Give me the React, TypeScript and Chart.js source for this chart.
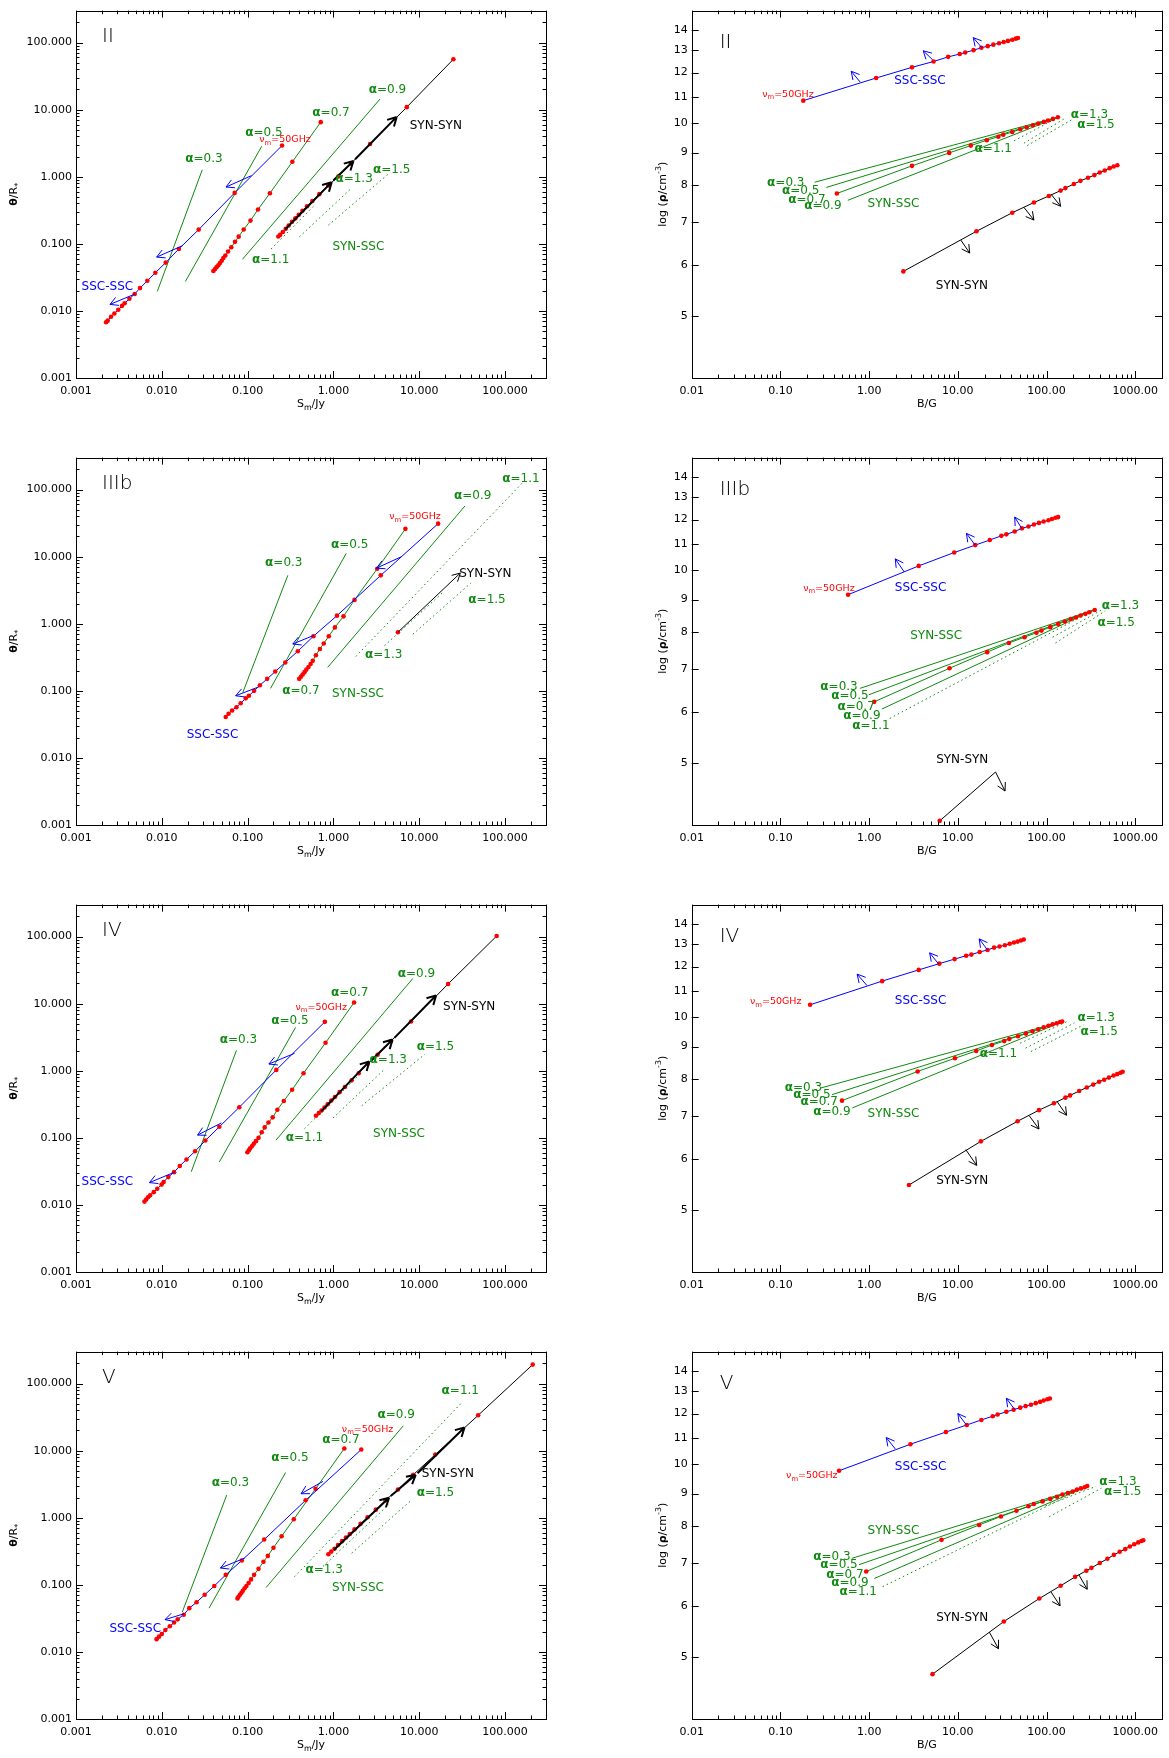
import { useEffect, useRef } from "react";
import { Chart, registerables } from "chart.js";

Chart.register(...registerables);

type Pt = [number, number];
type Arrow = [number, number, number, number];
type Label = [string, number, number];

const leftTicks = [0.001, 0.01, 0.1, 1, 10, 100];
const rightXTicks = [0.01, 0.1, 1, 10, 100, 1000];
const rightYTicks = [5, 6, 7, 8, 9, 10, 11, 12, 13, 14];

// ---------- II ----------
const iiSscL: Pt[] = [[0.00224, 0.00678], [0.00234, 0.00716], [0.00256, 0.00819], [0.0028, 0.00916], [0.00311, 0.0104], [0.00344, 0.0119], [0.00369, 0.013], [0.00419, 0.0152], [0.00483, 0.0179], [0.00557, 0.0219], [0.00678, 0.0281], [0.00841, 0.0371], [0.0111, 0.0525], [0.0158, 0.0839], [0.0269, 0.163], [0.0706, 0.575], [0.252, 2.92]];
const iiA07L: Pt[] = [[0.0399, 0.0393], [0.0417, 0.042], [0.0435, 0.0449], [0.0456, 0.048], [0.0476, 0.0519], [0.0499, 0.0561], [0.0521, 0.0614], [0.055, 0.0671], [0.0592, 0.0767], [0.0645, 0.0888], [0.0713, 0.107], [0.0787, 0.128], [0.09, 0.164], [0.108, 0.222], [0.132, 0.325], [0.182, 0.569], [0.332, 1.67], [0.711, 6.52]];
const iiSynL: Pt[] = [[0.228, 0.1285], [0.239, 0.136], [0.257, 0.15], [0.278, 0.168], [0.301, 0.188], [0.329, 0.213], [0.36, 0.24], [0.394, 0.272], [0.435, 0.311], [0.492, 0.364], [0.568, 0.435], [0.685, 0.551], [0.873, 0.745], [1.14, 1.01], [1.6, 1.57], [2.67, 3.08], [7.15, 10.9], [25.0, 56.5]];
const iiA03L: Pt[] = [[0.00887, 0.0196], [0.0296, 1.27]];
const iiA05L: Pt[] = [[0.0188, 0.0274], [0.146, 2.85]];
const iiA09L: Pt[] = [[0.0869, 0.0587], [3.49, 14.4]];
const iiA11L: Pt[] = [[0.1875, 0.0839], [0.583, 0.36]];
const iiA13L: Pt[] = [[0.401, 0.127], [1.6, 0.665]];
const iiA15L: Pt[] = [[0.873, 0.19], [4.37, 1.1]];
const iiBlueL: Arrow[] = [[0.00488, 0.0179, 0.00249, 0.0125], [0.0175, 0.094, 0.00871, 0.0635], [0.111, 1.04, 0.056, 0.703]];
const iiBlackL: Arrow[] = [[0.273, 0.164, 0.955, 0.832], [0.997, 0.881, 1.71, 1.72], [1.79, 1.82, 5.46, 7.8]];
const iiLabelsL: Label[] = [["α=0.3", 0.031, 1.82], ["α=0.5", 0.155, 4.56], ["α=0.7", 0.938, 9.02], ["α=0.9", 4.26, 19.5], ["α=1.1", 0.186, 0.058], ["α=1.3", 1.74, 0.931], ["α=1.5", 4.78, 1.27], ["SYN-SSC", 1.95, 0.0908], ["SSC-SSC", 0.00232, 0.0232], ["SYN-SYN", 15.6, 5.7], ["ν_{m}=50GHz", 0.273, 3.56]];

const iiSscR: Pt[] = [[0.181, 10.85], [1.2, 11.77], [3.04, 12.23], [5.32, 12.49], [7.78, 12.7], [10.5, 12.83], [12.1, 12.9], [15.0, 13.01], [18.4, 13.12], [21.7, 13.2], [25.1, 13.27], [29.1, 13.34], [32.9, 13.4], [36.7, 13.45], [41.1, 13.51], [44.9, 13.56], [47.6, 13.59]];
const iiA07R: Pt[] = [[0.433, 7.77], [3.04, 8.58], [7.98, 8.99], [14.0, 9.23], [21.2, 9.41], [28.6, 9.53], [32.5, 9.6], [41.1, 9.69], [50.5, 9.79], [59.6, 9.86], [70.2, 9.93], [80.5, 9.99], [93.3, 10.05], [104, 10.1], [118, 10.16], [134, 10.22]];
const iiSynR: Pt[] = [[2.43, 5.87], [16.2, 6.78], [41.1, 7.25], [72, 7.52], [106, 7.7], [144, 7.85], [163, 7.92], [203, 8.04], [241, 8.13], [293, 8.22], [346, 8.3], [397, 8.38], [452, 8.44], [514, 8.51], [570, 8.56], [628, 8.6]];
const iiA03R: Pt[] = [[0.243, 8.09], [140, 10.24]];
const iiA05R: Pt[] = [[0.329, 7.94], [140, 10.24]];
const iiA09R: Pt[] = [[0.575, 7.58], [140, 10.24]];
const iiA11R: Pt[] = [[43, 9.39], [140, 10.24]];
const iiA13R: Pt[] = [[55.6, 9.31], [165, 10.2]];
const iiA15R: Pt[] = [[60.5, 9.23], [190, 10.12]];
const iiBlueR: Arrow[] = [[0.793, 11.6, 0.628, 12.06], [5.19, 12.57, 4.07, 12.98], [18.6, 13.13, 14.9, 13.61]];
const iiBlackR: Arrow[] = [[10.8, 6.57, 13.6, 6.27], [55.6, 7.39, 72, 7.06], [113, 7.74, 144, 7.42]];
const iiLabelsR: Label[] = [["ν_{m}=50GHz", 0.1216, 11.1], ["SSC-SSC", 3.74, 11.64], ["α=1.1", 25.1, 9.12], ["α=0.3", 0.115, 8.07], ["α=0.5", 0.169, 7.85], ["α=0.7", 0.199, 7.58], ["α=0.9", 0.301, 7.44], ["SYN-SSC", 1.88, 7.49], ["SYN-SYN", 11.1, 5.57], ["α=1.3", 304, 10.32], ["α=1.5", 361, 9.93]];

// ---------- IIIb ----------
const iiibSscL: Pt[] = [[0.0556, 0.0407], [0.06, 0.0456], [0.066, 0.051], [0.0741, 0.057], [0.083, 0.0653], [0.095, 0.0773], [0.1035, 0.0845], [0.119, 0.1], [0.139, 0.121], [0.169, 0.151], [0.21, 0.194], [0.275, 0.265], [0.384, 0.389], [0.585, 0.653], [1.1, 1.32], [3.56, 5.27], [16.6, 31.1]];
const iiibA07L: Pt[] = [[0.399, 0.151], [0.418, 0.162], [0.438, 0.175], [0.46, 0.19], [0.483, 0.207], [0.512, 0.227], [0.542, 0.251], [0.574, 0.28], [0.625, 0.34], [0.695, 0.421], [0.771, 0.509], [0.883, 0.653], [1.04, 0.883], [1.31, 1.29], [1.76, 2.27], [3.24, 6.6], [6.9, 26.0]];
const iiibSynL: Pt[] = [[5.64, 0.747]];
const iiibA03L: Pt[] = [[0.0879, 0.0946], [0.294, 5.27]];
const iiibA05L: Pt[] = [[0.185, 0.109], [1.41, 11.2]];
const iiibA09L: Pt[] = [[0.857, 0.224], [34.1, 57]];
const iiibA11L: Pt[] = [[1.82, 0.325], [165, 132]];
const iiibA13L: Pt[] = [[3.93, 0.471], [19.6, 3.07]];
const iiibA15L: Pt[] = [[8.43, 0.698], [40.1, 4.07]];
const iiibBlueL: Arrow[] = [[0.135, 0.1146, 0.0726, 0.0845], [0.596, 0.675, 0.336, 0.499], [6.21, 10, 3.18, 6.75]];
const iiibBlackL: Arrow[] = [[5.64, 0.747, 30.1, 5.7]];
const iiibLabelsL: Label[] = [["α=0.3", 0.264, 7.98], ["α=0.5", 1.55, 14.8], ["α=0.7", 0.418, 0.1], ["α=0.9", 42, 79.8], ["α=1.1", 153, 145], ["α=1.3", 3.85, 0.344], ["α=1.5", 61.7, 2.27], ["SYN-SSC", 1.93, 0.0893], ["SSC-SSC", 0.039, 0.0219], ["SYN-SYN", 58.8, 5.57], ["ν_{m}=50GHz", 8.93, 39.4]];

const iiibSscR: Pt[] = [[0.579, 9.16], [3.62, 10.16], [9.1, 10.66], [15.7, 10.95], [22.9, 11.15], [30.9, 11.32], [35.2, 11.38], [43.7, 11.5], [52.8, 11.63], [62.5, 11.71], [71.9, 11.79], [82.1, 11.86], [92.7, 11.92], [105, 11.97], [115, 12.03], [126, 12.08], [135, 12.11]];
const iiibA07R: Pt[] = [[1.14, 6.23], [8.05, 7.03], [21.4, 7.45], [37.6, 7.7], [56.4, 7.86], [76.9, 7.99], [87.7, 8.05], [110, 8.15], [135, 8.24], [161, 8.32], [188, 8.39], [214, 8.44], [242, 8.5], [274, 8.55], [303, 8.6], [349, 8.67]];
const iiibSynR: Pt[] = [[6.25, 4.06], [26.6, 4.84]];
const iiibA03R: Pt[] = [[0.791, 6.54], [346, 8.68]];
const iiibA05R: Pt[] = [[0.991, 6.39], [346, 8.68]];
const iiibA09R: Pt[] = [[1.39, 6.07], [346, 8.68]];
const iiibA11R: Pt[] = [[1.71, 5.87], [346, 8.68]];
const iiibA13R: Pt[] = [[117, 7.86], [417, 8.67]];
const iiibA15R: Pt[] = [[126, 7.7], [458, 8.64]];
const iiibBlueR: Arrow[] = [[2.49, 9.94, 1.97, 10.42], [15.6, 10.96, 12.5, 11.42], [52.8, 11.61, 43.7, 12.11]];
const iiibBlackR: Arrow[] = [[26.6, 4.84, 34.0, 4.52]];
const iiibLabelsR: Label[] = [["ν_{m}=50GHz", 0.352, 9.38], ["SSC-SSC", 3.8, 9.4], ["SYN-SSC", 5.69, 7.89], ["α=1.3", 681, 8.8], ["α=1.5", 608, 8.29], ["α=0.3", 0.458, 6.57], ["α=0.5", 0.608, 6.36], ["α=0.7", 0.713, 6.12], ["α=0.9", 0.828, 5.92], ["α=1.1", 1.05, 5.71], ["SYN-SYN", 11.2, 5.05]];

// ---------- IV ----------
const ivSscL: Pt[] = [[0.00628, 0.0112], [0.00657, 0.012], [0.0069, 0.013], [0.00731, 0.0139], [0.00805, 0.0155], [0.00885, 0.0174], [0.00993, 0.0201], [0.0105, 0.022], [0.0119, 0.026], [0.0139, 0.0308], [0.0162, 0.0381], [0.0194, 0.0476], [0.0244, 0.0631], [0.0322, 0.0914], [0.0468, 0.146], [0.08, 0.286], [0.216, 1.03], [0.794, 5.36]];
const ivA07L: Pt[] = [[0.0995, 0.061], [0.1035, 0.0652], [0.107, 0.0698], [0.113, 0.0755], [0.118, 0.0817], [0.125, 0.0893], [0.134, 0.1], [0.146, 0.121], [0.158, 0.143], [0.175, 0.169], [0.196, 0.202], [0.222, 0.262], [0.264, 0.355], [0.33, 0.52], [0.448, 0.92], [0.809, 2.61], [1.74, 10.4]];
const ivSynL: Pt[] = [[0.625, 0.214], [0.675, 0.234], [0.727, 0.256], [0.787, 0.284], [0.857, 0.317], [0.944, 0.359], [1.04, 0.406], [1.18, 0.48], [1.36, 0.574], [1.63, 0.719], [1.97, 0.92], [2.5, 1.26], [3.27, 1.73], [4.66, 2.76], [8.04, 5.42], [21.7, 19.7], [79.8, 102]];
const ivA03L: Pt[] = [[0.022, 0.0311], [0.0742, 2.02]];
const ivA05L: Pt[] = [[0.0468, 0.0436], [0.362, 4.43]];
const ivA09L: Pt[] = [[0.214, 0.0923], [8.43, 23.8]];
const ivA11L: Pt[] = [[0.46, 0.137], [1.88, 0.805]];
const ivA13L: Pt[] = [[0.989, 0.198], [3.96, 1.06]];
const ivA15L: Pt[] = [[2.13, 0.3], [11.6, 1.76]];
const ivBlueL: Arrow[] = [[0.0143, 0.0311, 0.00718, 0.0215], [0.0495, 0.167, 0.0261, 0.11], [0.352, 1.82, 0.177, 1.26]];
const ivBlackL: Arrow[] = [[0.721, 0.248, 2.62, 1.38], [2.75, 1.41, 4.89, 2.92], [5.13, 3.09, 15.7, 13.3]];
const ivLabelsL: Label[] = [["α=0.3", 0.0783, 2.92], ["α=0.5", 0.311, 5.6], ["α=0.7", 1.55, 14.5], ["α=0.9", 9.29, 28.2], ["α=1.1", 0.46, 0.101], ["α=1.3", 4.36, 1.46], ["α=1.5", 15.4, 2.26], ["ν_{m}=50GHz", 0.721, 8.77], ["SYN-SYN", 38.2, 8.97], ["SYN-SSC", 5.81, 0.113], ["SSC-SSC", 0.00232, 0.0222]];

const ivSscR: Pt[] = [[0.216, 10.46], [1.4, 11.39], [3.62, 11.86], [6.19, 12.13], [9.19, 12.33], [12.4, 12.48], [14.2, 12.53], [17.6, 12.65], [21.6, 12.74], [25.6, 12.85], [29.5, 12.9], [33.9, 12.96], [38.4, 13.03], [42.9, 13.09], [47.1, 13.13], [51.3, 13.18], [55.3, 13.23]];
const ivA07R: Pt[] = [[0.494, 7.41], [3.52, 8.23], [9.27, 8.63], [16.1, 8.86], [24.2, 9.05], [33.3, 9.18], [38, 9.25], [47.6, 9.34], [58.5, 9.43], [69.3, 9.51], [80.5, 9.58], [92.7, 9.65], [105, 9.7], [117, 9.75], [130, 9.79], [142, 9.83], [150, 9.85]];
const ivSynR: Pt[] = [[2.81, 5.47], [18.2, 6.4], [47.1, 6.88], [82.1, 7.16], [121, 7.34], [163, 7.49], [184, 7.55], [233, 7.67], [284, 7.77], [336, 7.85], [391, 7.93], [446, 7.99], [504, 8.05], [569, 8.11], [625, 8.15], [681, 8.19], [720, 8.22]];
const ivA03R: Pt[] = [[0.281, 7.75], [156, 9.86]];
const ivA05R: Pt[] = [[0.38, 7.57], [156, 9.86]];
const ivA09R: Pt[] = [[0.649, 7.22], [156, 9.86]];
const ivA11R: Pt[] = [[50.4, 9.11], [171, 9.85]];
const ivA13R: Pt[] = [[58, 8.95], [206, 9.8]];
const ivA15R: Pt[] = [[66.7, 8.84], [261, 9.73]];
const ivBlueR: Arrow[] = [[0.946, 11.21, 0.733, 11.68], [6.08, 12.11, 4.81, 12.61], [21.6, 12.74, 17.4, 13.26]];
const ivBlackR: Arrow[] = [[12.3, 6.21, 16.3, 5.87], [63.7, 7.02, 82.1, 6.69], [131, 7.39, 168, 7.03]];
const ivLabelsR: Label[] = [["ν_{m}=50GHz", 0.0885, 10.57], ["SSC-SSC", 3.8, 10.61], ["α=1.3", 362, 9.98], ["α=1.5", 391, 9.49], ["α=1.1", 28.6, 8.77], ["α=0.3", 0.182, 7.77], ["α=0.5", 0.226, 7.57], ["α=0.7", 0.274, 7.37], ["α=0.9", 0.38, 7.11], ["SYN-SSC", 1.88, 7.07], ["SYN-SYN", 11.2, 5.55]];

// ---------- V ----------
const vSscL: Pt[] = [[0.00869, 0.0155], [0.00929, 0.0169], [0.01, 0.0185], [0.011, 0.0212], [0.0124, 0.0242], [0.0139, 0.0274], [0.0153, 0.0306], [0.018, 0.0359], [0.0209, 0.0449], [0.0254, 0.055], [0.0316, 0.0711], [0.0409, 0.0962], [0.0556, 0.141], [0.0855, 0.231], [0.156, 0.473], [0.474, 1.82], [2.11, 10.4]];
const vA07L: Pt[] = [[0.0762, 0.0628], [0.0783, 0.0665], [0.0815, 0.0711], [0.0848, 0.076], [0.0879, 0.0813], [0.0922, 0.0889], [0.0968, 0.0962], [0.1026, 0.1064], [0.1096, 0.1205], [0.119, 0.141], [0.134, 0.173], [0.153, 0.221], [0.172, 0.27], [0.2, 0.358], [0.249, 0.53], [0.345, 0.95], [0.619, 2.7], [1.34, 10.8]];
const vSynL: Pt[] = [[0.873, 0.286], [0.944, 0.313], [1.03, 0.346], [1.13, 0.392], [1.26, 0.448], [1.4, 0.507], [1.55, 0.573], [1.76, 0.671], [2.07, 0.811], [2.5, 1.02], [3.12, 1.32], [4.04, 1.82], [5.65, 2.64], [8.51, 4.37], [15.4, 8.77], [48.6, 33.7], [210, 192]];
const vA03L: Pt[] = [[0.0173, 0.0392], [0.0571, 2.18]];
const vA05L: Pt[] = [[0.0355, 0.0449], [0.277, 4.72]];
const vA09L: Pt[] = [[0.164, 0.091], [6.52, 23.5]];
const vA11L: Pt[] = [[0.352, 0.132], [31.6, 52.7]];
const vA13L: Pt[] = [[0.757, 0.189], [4.45, 1.59]];
const vA15L: Pt[] = [[1.63, 0.296], [7.89, 1.78]];
const vBlueL: Arrow[] = [[0.0182, 0.0371, 0.0109, 0.0303], [0.0922, 0.25, 0.0482, 0.178], [0.757, 3.49, 0.419, 2.28]];
const vBlackL: Arrow[] = [[1.01, 0.331, 4.45, 1.99], [4.66, 2.11, 9.1, 4.37], [9.55, 4.62, 33.7, 22.2]];
const vLabelsL: Label[] = [["α=0.3", 0.063, 3.3], ["α=0.5", 0.311, 7.83], ["α=0.7", 1.22, 14.7], ["ν_{m}=50GHz", 2.5, 21], ["α=0.9", 5.38, 33.7], ["α=1.1", 30.1, 79], ["SYN-SYN", 21.5, 4.47], ["α=1.5", 15.4, 2.36], ["α=1.3", 0.78, 0.169], ["SYN-SSC", 1.93, 0.089], ["SSC-SSC", 0.0049, 0.0224]];

const vSscR: Pt[] = [[0.458, 9.77], [2.92, 10.75], [7.33, 11.23], [12.6, 11.52], [18.4, 11.73], [24.7, 11.89], [28.1, 11.96], [35.2, 12.08], [42.5, 12.17], [50.4, 12.26], [58, 12.33], [66.7, 12.39], [75.5, 12.46], [84.5, 12.52], [92.7, 12.58], [102, 12.64], [109, 12.67]];
const vA07R: Pt[] = [[0.927, 6.8], [6.55, 7.62], [17.4, 8.04], [30.6, 8.29], [45.8, 8.46], [62.5, 8.6], [71.9, 8.67], [90.2, 8.75], [110, 8.83], [131, 8.9], [151, 8.97], [174, 9.02], [197, 9.07], [220, 9.13], [244, 9.17], [269, 9.21], [287, 9.25]];
const vSynR: Pt[] = [[5.18, 4.7], [33, 5.68], [82.8, 6.17], [144, 6.46], [210, 6.67], [281, 6.82], [321, 6.89], [398, 7.01], [485, 7.12], [574, 7.22], [667, 7.3], [769, 7.37], [869, 7.44], [973, 7.5], [1079, 7.55], [1172, 7.59], [1230, 7.61]];
const vA03R: Pt[] = [[0.637, 7.13], [300, 9.26]];
const vA05R: Pt[] = [[0.769, 6.97], [300, 9.26]];
const vA09R: Pt[] = [[1.14, 6.63], [300, 9.26]];
const vA11R: Pt[] = [[1.42, 6.44], [300, 9.26]];
const vA13R: Pt[] = [[97.2, 8.61], [362, 9.24]];
const vA15R: Pt[] = [[107, 8.28], [417, 9.18]];
const vBlueR: Arrow[] = [[1.97, 10.57, 1.56, 11.01], [12.5, 11.52, 10, 12.0], [43.7, 12.18, 35.2, 12.68]];
const vBlackR: Arrow[] = [[22.6, 5.47, 28.7, 5.15], [112, 6.32, 142, 6.01], [231, 6.72, 287, 6.38]];
const vLabelsR: Label[] = [["ν_{m}=50GHz", 0.226, 9.59], ["SSC-SSC", 3.8, 9.91], ["SYN-SSC", 1.88, 7.88], ["α=1.3", 637, 9.4], ["α=1.5", 720, 9.04], ["α=0.3", 0.38, 7.17], ["α=0.5", 0.458, 6.96], ["α=0.7", 0.533, 6.72], ["α=0.9", 0.608, 6.52], ["α=1.1", 0.755, 6.32], ["SYN-SYN", 11.2, 5.75]];

type Spec = {
  side: "L" | "R";
  row: number;
  name: string;
  ssc: Pt[];
  a07: Pt[];
  syn: Pt[];
  synTail?: number;
  solid: Pt[][];
  dotted: Pt[][];
  blue: Arrow[];
  black: Arrow[];
  heavy: boolean;
  labels: Label[];
};

const specs: Spec[] = [
  { side: "L", row: 0, name: "II", ssc: iiSscL, a07: iiA07L, syn: iiSynL, solid: [iiA03L, iiA05L, iiA09L], dotted: [iiA11L, iiA13L, iiA15L], blue: iiBlueL, black: iiBlackL, heavy: true, labels: iiLabelsL },
  { side: "R", row: 0, name: "II", ssc: iiSscR, a07: iiA07R, syn: iiSynR, solid: [iiA03R, iiA05R, iiA09R], dotted: [iiA11R, iiA13R, iiA15R], blue: iiBlueR, black: iiBlackR, heavy: false, labels: iiLabelsR },
  { side: "L", row: 1, name: "IIIb", ssc: iiibSscL, a07: iiibA07L, syn: iiibSynL, solid: [iiibA03L, iiibA05L, iiibA09L], dotted: [iiibA11L, iiibA13L, iiibA15L], blue: iiibBlueL, black: iiibBlackL, heavy: false, labels: iiibLabelsL },
  { side: "R", row: 1, name: "IIIb", ssc: iiibSscR, a07: iiibA07R, syn: iiibSynR, synTail: 1, solid: [iiibA03R, iiibA05R, iiibA09R], dotted: [iiibA11R, iiibA13R, iiibA15R], blue: iiibBlueR, black: iiibBlackR, heavy: false, labels: iiibLabelsR },
  { side: "L", row: 2, name: "IV", ssc: ivSscL, a07: ivA07L, syn: ivSynL, solid: [ivA03L, ivA05L, ivA09L], dotted: [ivA11L, ivA13L, ivA15L], blue: ivBlueL, black: ivBlackL, heavy: true, labels: ivLabelsL },
  { side: "R", row: 2, name: "IV", ssc: ivSscR, a07: ivA07R, syn: ivSynR, solid: [ivA03R, ivA05R, ivA09R], dotted: [ivA11R, ivA13R, ivA15R], blue: ivBlueR, black: ivBlackR, heavy: false, labels: ivLabelsR },
  { side: "L", row: 3, name: "V", ssc: vSscL, a07: vA07L, syn: vSynL, solid: [vA03L, vA05L, vA09L], dotted: [vA11L, vA13L, vA15L], blue: vBlueL, black: vBlackL, heavy: true, labels: vLabelsL },
  { side: "R", row: 3, name: "V", ssc: vSscR, a07: vA07R, syn: vSynR, solid: [vA03R, vA05R, vA09R], dotted: [vA11R, vA13R, vA15R], blue: vBlueR, black: vBlackR, heavy: false, labels: vLabelsR },
];

const FONT = '"DejaVu Sans", "Liberation Sans", sans-serif';
const GREEN = "#0e8a0e";
const BLUE = "#0000ff";
const RED = "#ff0000";
const ROW_H = 447;

type Seg = { t: string; sub?: boolean; sup?: boolean; b?: boolean };

// "ν_{m}=50GHz" -> segments; greek alpha/theta/rho drawn bold
function segsOf(text: string): Seg[] {
  const out: Seg[] = [];
  const re = /([_^])\{([^}]*)\}/g;
  let last = 0;
  let m: RegExpExecArray | null;
  const plain = (s: string) => {
    s.split(/([αθρ])/).forEach((p) => {
      if (p) out.push({ t: p, b: /[αθρ]/.test(p) });
    });
  };
  while ((m = re.exec(text))) {
    if (m.index > last) plain(text.slice(last, m.index));
    out.push({ t: m[2], sub: m[1] === "_", sup: m[1] === "^" });
    last = re.lastIndex;
  }
  if (last < text.length) plain(text.slice(last));
  return out;
}

function drawText(ctx: CanvasRenderingContext2D, text: string, x: number, y: number, size: number, color: string) {
  const segs = segsOf(text);
  const font = (s: Seg) => `${s.b ? "bold " : ""}${s.sub || s.sup ? size * 0.72 : size}px ${FONT}`;
  let w = 0;
  segs.forEach((s) => {
    ctx.font = font(s);
    w += ctx.measureText(s.t).width;
  });
  let cx = x - w / 2;
  ctx.fillStyle = color;
  ctx.textAlign = "left";
  ctx.textBaseline = "middle";
  segs.forEach((s) => {
    ctx.font = font(s);
    const dy = s.sub ? size * 0.32 : s.sup ? -size * 0.38 : 0;
    ctx.fillText(s.t, cx, y + dy);
    cx += ctx.measureText(s.t).width;
  });
}

function labelStyle(t: string): [string, number] {
  if (t.startsWith("ν")) return [RED, 9.5];
  if (t === "SSC-SSC") return [BLUE, 12];
  if (t === "SYN-SYN") return ["#000", 12];
  return [GREEN, 12];
}

function logSteps(min: number, max: number): [number, boolean][] {
  const out: [number, boolean][] = [];
  for (let d = Math.floor(Math.log10(min)); d <= Math.ceil(Math.log10(max)); d++) {
    for (let k = 1; k <= 9; k++) {
      const v = k * Math.pow(10, d);
      if (v >= min * 0.999 && v <= max * 1.001) out.push([v, k === 1]);
    }
  }
  return out;
}

function drawArrow(ctx: CanvasRenderingContext2D, x1: number, y1: number, x2: number, y2: number, color: string, width: number) {
  const ang = Math.atan2(y2 - y1, x2 - x1);
  const h = width > 1.5 ? 10 : 9;
  ctx.strokeStyle = color;
  ctx.lineWidth = width;
  ctx.beginPath();
  ctx.moveTo(x1, y1);
  ctx.lineTo(x2, y2);
  for (const s of [-1, 1]) {
    ctx.moveTo(x2, y2);
    ctx.lineTo(x2 - h * Math.cos(ang + s * 0.5), y2 - h * Math.sin(ang + s * 0.5));
  }
  ctx.stroke();
}

function Panel({ spec }: { spec: Spec }) {
  const ref = useRef<HTMLCanvasElement | null>(null);
  const left = spec.side === "L";

  useEffect(() => {
    if (!ref.current) return;
    const xr = left ? [0.001, 300] : [0.01, 2000];
    const yr = left ? [0.001, 300] : [4, 15];
    const xTicks = left ? leftTicks : rightXTicks;
    const yTicks = left ? leftTicks : rightYTicks;
    const xy = (p: Pt[]) => p.map(([x, y]) => ({ x, y }));
    const dotR = 2.3;

    const dotted = (data: Pt[], color: string, tail = 0) => ({
      data: xy(data),
      showLine: true,
      borderColor: color,
      borderWidth: 1,
      pointRadius: data.map((_, i) => (i >= data.length - tail ? 0 : dotR)),
      pointBackgroundColor: RED,
      pointBorderWidth: 0,
    });
    const plain = (data: Pt[], dash: number[]) => ({
      data: xy(data),
      showLine: true,
      borderColor: GREEN,
      borderWidth: 1,
      borderDash: dash,
      pointRadius: 0,
    });

    const datasets: any[] = [
      dotted(spec.ssc, BLUE),
      dotted(spec.a07, GREEN),
      dotted(spec.syn, "#000", spec.synTail ?? 0),
      ...spec.solid.map((s) => plain(s, [])),
      ...spec.dotted.map((s) => plain(s, [1.5, 3])),
    ];

    const frame = {
      id: "frame",
      afterDraw(chart: Chart) {
        const { ctx, chartArea: a } = chart;
        const xs = chart.scales.x;
        const ys = chart.scales.y;
        const X = (v: number) => xs.getPixelForValue(v);
        const Y = (v: number) => ys.getPixelForValue(v);
        ctx.save();
        ctx.strokeStyle = "#000";
        ctx.lineWidth = 1;
        ctx.strokeRect(Math.round(a.left) + 0.5, Math.round(a.top) + 0.5, Math.round(a.right - a.left), Math.round(a.bottom - a.top));
        ctx.beginPath();
        logSteps(xr[0], xr[1]).forEach(([v, major]) => {
          const px = Math.round(X(v)) + 0.5;
          const len = major ? 7 : 3.5;
          ctx.moveTo(px, a.bottom);
          ctx.lineTo(px, a.bottom - len);
          ctx.moveTo(px, a.top);
          ctx.lineTo(px, a.top + len);
        });
        const ySteps: [number, boolean][] = left ? logSteps(yr[0], yr[1]) : yTicks.map((v) => [v, true]);
        ySteps.forEach(([v, major]) => {
          const py = Math.round(Y(v)) + 0.5;
          const len = major ? 7 : 3.5;
          ctx.moveTo(a.left, py);
          ctx.lineTo(a.left + len, py);
          ctx.moveTo(a.right, py);
          ctx.lineTo(a.right - len, py);
        });
        ctx.stroke();

        spec.blue.forEach(([x1, y1, x2, y2]) => drawArrow(ctx, X(x1), Y(y1), X(x2), Y(y2), BLUE, 1));
        spec.black.forEach(([x1, y1, x2, y2]) => drawArrow(ctx, X(x1), Y(y1), X(x2), Y(y2), "#000", spec.heavy ? 2 : 1));

        spec.labels.forEach(([t, x, y]) => {
          const [c, s] = labelStyle(t);
          drawText(ctx, t, X(x), Y(y), s, c);
        });

        // panel name
        ctx.fillStyle = "#000";
        ctx.font = `200 20px ${FONT}`;
        ctx.textAlign = "left";
        ctx.textBaseline = "middle";
        ctx.fillText(spec.name, a.left + (left ? 26 : 28), a.top + (left ? 26 : 32));

        // axis titles
        const mid = (a.left + a.right) / 2;
        drawText(ctx, left ? "S_{m}/Jy" : "B/G", mid, a.bottom + 26, 11, "#000");
        ctx.translate(left ? 14 : 79, (a.top + a.bottom) / 2);
        ctx.rotate(-Math.PI / 2);
        drawText(ctx, left ? "θ/R_{*}" : "log (ρ/cm^{-3})", 0, 0, 11, "#000");
        ctx.restore();
      },
    };

    const fmt = (v: number, axis: "x" | "y") => {
      if (left) return v.toFixed(3);
      return axis === "x" ? v.toFixed(2) : String(v);
    };

    const chart = new Chart(ref.current, {
      type: "scatter",
      data: { datasets },
      options: {
        animation: false,
        responsive: false,
        events: [],
        layout: { padding: { left: 0, right: left ? 38 : 7, top: 3, bottom: 0 } },
        plugins: { legend: { display: false }, tooltip: { enabled: false } },
        scales: {
          x: {
            type: "logarithmic",
            min: xr[0],
            max: xr[1],
            grid: { display: false, drawTicks: false },
            border: { display: false },
            ticks: {
              autoSkip: false,
              maxRotation: 0,
              padding: 7,
              color: "#000",
              font: { family: FONT, size: 11 },
              callback: (v: any) => fmt(Number(v), "x"),
            },
            afterBuildTicks: (s: any) => {
              s.ticks = xTicks.map((value) => ({ value }));
            },
            afterFit: (s: any) => {
              s.height = 69;
            },
          },
          y: {
            type: "logarithmic",
            min: yr[0],
            max: yr[1],
            grid: { display: false, drawTicks: false },
            border: { display: false },
            ticks: {
              autoSkip: false,
              padding: 4,
              color: "#000",
              font: { family: FONT, size: 11 },
              callback: (v: any) => fmt(Number(v), "y"),
            },
            afterBuildTicks: (s: any) => {
              s.ticks = yTicks.map((value) => ({ value }));
            },
            afterFit: (s: any) => {
              s.width = left ? 76 : 107.7;
            },
          },
        },
      } as any,
      plugins: [frame],
    });

    return () => {
      chart.destroy();
    };
  }, [spec, left]);

  return (
    <canvas
      ref={ref}
      width={left ? 584 : 585}
      height={ROW_H}
      style={{ position: "absolute", left: left ? 0 : 584, top: spec.row * ROW_H }}
    />
  );
}

export default function App() {
  return (
    <div style={{ position: "absolute", left: 0, top: 0, width: 1169, height: 1758, background: "#fff" }}>
      {specs.map((s, i) => (
        <Panel key={i} spec={s} />
      ))}
    </div>
  );
}
